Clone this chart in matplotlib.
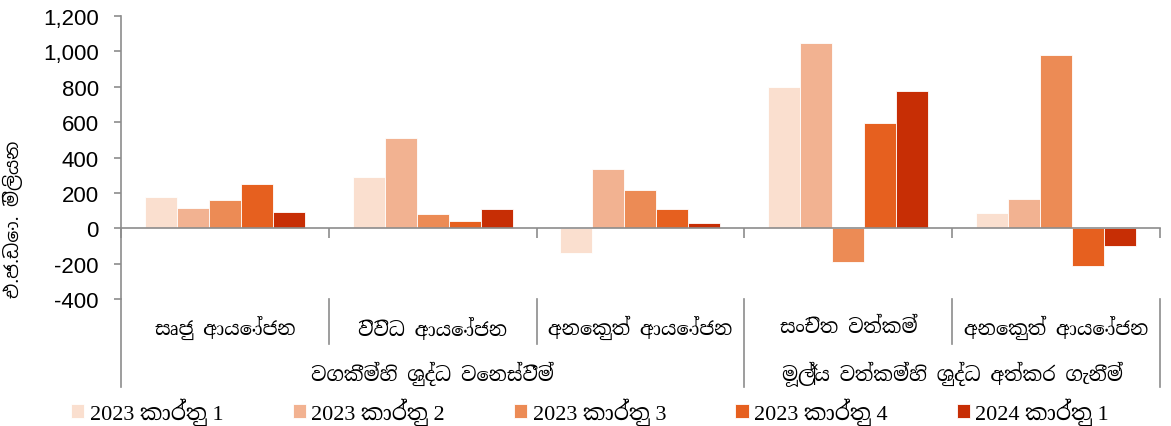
import numpy as np
import matplotlib
matplotlib.use("Agg")
import matplotlib.pyplot as plt
from matplotlib.ticker import FuncFormatter

# දත්ත (එ.ජ.ඩො. මිලියන)
categories = ["සෘජු ආයෝජන", "විවිධ ආයෝජන", "අනෙකුත් ආයෝජන",
              "සංචිත වත්කම්", "අනෙකුත් ආයෝජන"]
groups = ["වගකීම්හි ශුද්ධ වෙනස්වීම්", "මූල්‍ය වත්කම්හි ශුද්ධ අත්කර ගැනීම්"]
series = ["2023 කාර්තු 1", "2023 කාර්තු 2", "2023 කාර්තු 3",
          "2023 කාර්තු 4", "2024 කාර්තු 1"]
q1_2023 = [174, 290, -140, 798, 87]
q2_2023 = [117, 509, 336, 1045, 164]
q3_2023 = [162, 83, 215, -188, 981]
q4_2023 = [251, 43, 109, 594, -215]
q1_2024 = [94, 111, 30, 775, -102]

values = [q1_2023, q2_2023, q3_2023, q4_2023, q1_2024]
colors = ["#FADFCF", "#F2B291", "#EC8B55", "#E6601F", "#C72E05"]

sinhala = ["Noto Serif Sinhala", "FreeSerif"]
legend_font = ["Liberation Serif", "Noto Serif Sinhala", "FreeSerif"]
plt.rcParams["font.family"] = ["Liberation Sans", "Noto Sans Sinhala"]

fig = plt.figure(figsize=(11.71, 4.27), dpi=100)
ax = fig.add_axes([0.1033, 0.2974, 0.8873, 0.6628])

x = np.arange(len(categories))
w = 0.154
for i, (vals, col, name) in enumerate(zip(values, colors, series)):
    ax.bar(x + (i - 2) * w, vals, width=w, color=col, edgecolor="white",
           linewidth=0.6, label=name)

ax.set_xlim(-0.5, len(categories) - 0.5)
ax.set_ylim(-400, 1200)
ax.set_yticks(np.arange(-400, 1201, 200))
ax.yaxis.set_major_formatter(FuncFormatter(lambda v, p: f"{v:,.0f}"))
ax.tick_params(axis="y", labelsize=16, color="#8c8c8c", length=5, width=1.2, pad=11)

# x අක්ෂය ශුන්‍යයේ
ax.spines["top"].set_visible(False)
ax.spines["right"].set_visible(False)
ax.spines["left"].set_color("#8c8c8c")
ax.spines["left"].set_linewidth(1.2)
ax.spines["bottom"].set_position(("data", 0))
ax.spines["bottom"].set_color("#8c8c8c")
ax.spines["bottom"].set_linewidth(1.2)
ax.set_xticks(np.arange(-0.5, len(categories), 1.0))
ax.set_xticklabels([])
ax.tick_params(axis="x", color="#8c8c8c", length=7, width=1.2, direction="out")

ax.set_ylabel("එ.ජ.ඩො. මිලියන", fontsize=13.5, fontweight="bold",
              family=["Noto Sans Sinhala"])
ax.yaxis.set_label_coords(-0.094, 0.285)

# කාණ්ඩ ලේබල් සහ බෙදුම් රේඛා
trans = ax.get_xaxis_transform()
for i, c in enumerate(categories):
    ax.text(i, -0.1, c, transform=trans, ha="center", va="center",
            fontsize=14, family=sinhala)
for b in [0.5, 1.5, 3.5]:
    ax.plot([b, b], [0, -0.159], transform=trans, color="#8c8c8c",
            lw=1.2, clip_on=False)
for b in [-0.5, 2.5, 4.5]:
    ax.plot([b, b], [0, -0.311], transform=trans, color="#8c8c8c",
            lw=1.2, clip_on=False)
ax.text(1, -0.262, groups[0], transform=trans, ha="center", va="center",
        fontsize=14, family=sinhala)
ax.text(3.5, -0.262, groups[1], transform=trans, ha="center", va="center",
        fontsize=14, family=sinhala)

fig.legend(loc="center", bbox_to_anchor=(0.504, 0.035), ncol=5, frameon=False,
           prop={"family": legend_font, "size": 16}, handlelength=0.6,
           handleheight=0.6, handletextpad=0.25, columnspacing=3.1)

fig.savefig("out.png", dpi=100)
